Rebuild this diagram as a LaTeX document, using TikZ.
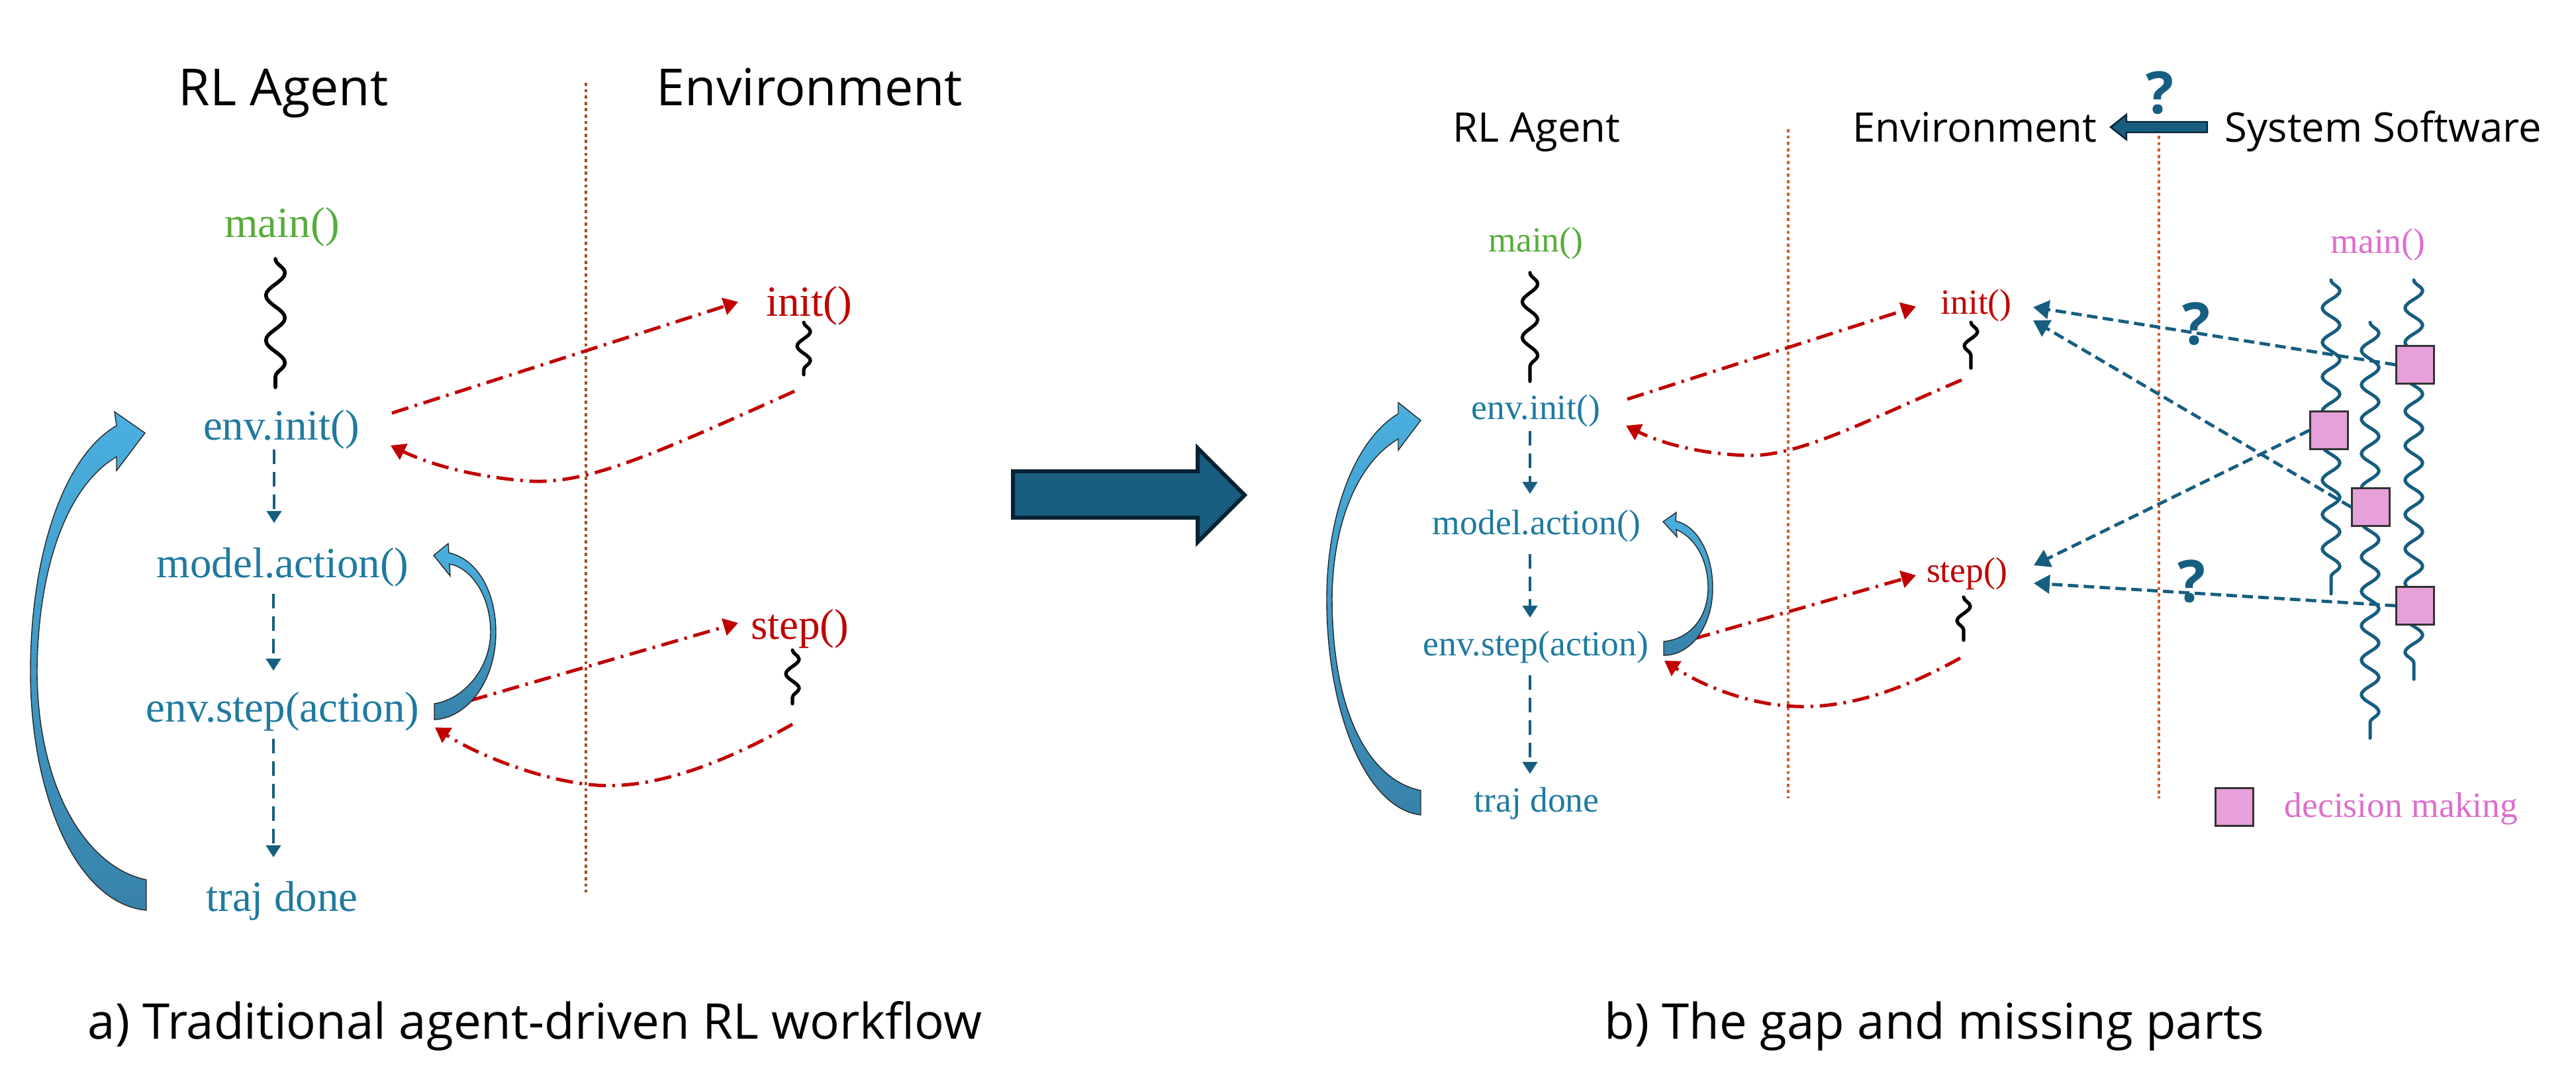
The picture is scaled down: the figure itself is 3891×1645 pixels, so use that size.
\documentclass[tikz,border=0pt]{standalone}
\usepackage{fontspec}
\setmainfont{Liberation Serif}
\newfontfamily\hfont{Open Sans}
\usetikzlibrary{arrows.meta,decorations.pathmorphing}
\definecolor{tealtxt}{RGB}{31,122,160}
\definecolor{tealdk}{RGB}{22,94,128}
\definecolor{redc}{RGB}{192,0,0}
\definecolor{greenc}{RGB}{88,172,60}
\definecolor{pinkc}{RGB}{222,110,205}
\definecolor{pinkfill}{RGB}{230,160,218}
\definecolor{dotL}{RGB}{150,85,40}
\definecolor{dotR}{RGB}{212,95,40}
\definecolor{blockf}{RGB}{23,94,128}
\definecolor{blockd}{RGB}{6,34,51}
\definecolor{cvtop}{RGB}{74,176,224}
\definecolor{cvbot}{RGB}{55,130,170}
\tikzset{
 lab/.style={inner sep=0pt, anchor=base},
 serL/.style={lab, font=\fontsize{16.25}{18}\selectfont},
 serR/.style={lab, font=\fontsize{13.4}{15}\selectfont},
 headL/.style={lab, font=\hfont\fontsize{19.3}{22}\selectfont},
 headR/.style={lab, font=\hfont\fontsize{15.4}{18}\selectfont},
 capt/.style={lab, font=\hfont\fontsize{18.6}{22}\selectfont},
 qmark/.style={inner sep=0pt, text=tealdk, font=\hfont\bfseries\fontsize{22}{24}\selectfont},
 flow/.style={draw=tealdk, line width=1pt, dash pattern=on 5.5pt off 3pt, -{Triangle[width=5.5pt,length=4.5pt]}},
 call/.style={draw=redc, line width=1.25pt, dash pattern=on 6.5pt off 2.5pt on 1pt off 2.5pt, -{Triangle[width=6.5pt,length=5.5pt]}},
 query/.style={draw=tealdk, line width=1.2pt, dash pattern=on 4pt off 2pt, -{Triangle[width=7pt,length=6pt]}},
 sepL/.style={draw=dotL, line width=1.2pt, dash pattern=on 1.2pt off 1.2pt},
 sepR/.style={draw=dotR, line width=1.2pt, dash pattern=on 1.2pt off 1.2pt},
 decide/.style={draw=black!80, fill=pinkfill, line width=0.6pt, minimum size=14.2pt, inner sep=0pt},
 bent/.style={draw=black!85, line width=0.35pt, top color=cvtop, bottom color=cvbot},
 block/.style={fill=blockf, draw=blockd, line width=1.5pt, line join=miter},
 wavyK/.style={draw=black, line width=1.4pt, line cap=round, decorate, decoration={snake, amplitude=3.6pt, segment length=17pt}},
 wavyKr/.style={draw=black, line width=1.3pt, line cap=round, decorate, decoration={snake, amplitude=2.9pt, segment length=13.5pt}},
 wavyKs/.style={draw=black, line width=1.3pt, line cap=round, decorate, decoration={snake, amplitude=2.5pt, segment length=11pt}},
 wavyT/.style={draw=tealdk, line width=1.25pt, line cap=round, decorate, decoration={snake, amplitude=3.3pt, segment length=13pt}},
}
\begin{document}
\begin{tikzpicture}[x=0.25pt,y=-0.25pt]
\fill[white] (0,0) rectangle (3891,1645);
\useasboundingbox (0,0) rectangle (3891,1645);

% ================= LEFT PANEL =================
\node[headL] (lrl) at (428,160) {RL Agent};
\node[headL] (lenv) at (1223,160) {Environment};
\coordinate (lsepT) at (885,125); \coordinate (lsepB) at (885,1348);
\draw[sepL] (lsepT) -- (lsepB);

\node[serL, text=greenc] (lmain) at (426,359) {main()};
\node[serL, text=tealtxt] (linit) at (425,665) {env.init()};
\node[serL, text=tealtxt] (lmodel) at (427,873) {model.action()};
\node[serL, text=tealtxt] (lstep) at (427,1091) {env.step(action)};
\node[serL, text=tealtxt] (ltraj) at (426,1377) {traj done};
\node[serL, text=redc] (leinit) at (1222,478) {init()};
\node[serL, text=redc] (lestep) at (1208,966) {step()};

\coordinate (lw1a) at (416,391); \coordinate (lw1b) at (416,585);
\draw[wavyK] (lw1a) -- (lw1b);
\coordinate (lw2a) at (1214,487); \coordinate (lw2b) at (1214,566);
\draw[wavyKs] (lw2a) -- (lw2b);
\coordinate (lw3a) at (1197,982); \coordinate (lw3b) at (1197,1063);
\draw[wavyKs] (lw3a) -- (lw3b);

\coordinate (lf1a) at (414,679); \coordinate (lf1b) at (414,790);
\coordinate (lf2a) at (413,897); \coordinate (lf2b) at (413,1013);
\coordinate (lf3a) at (413,1116); \coordinate (lf3b) at (413,1295);
\draw[flow] (lf1a) -- (lf1b);
\draw[flow] (lf2a) -- (lf2b);
\draw[flow] (lf3a) -- (lf3b);

% red calls
\coordinate (lc1a) at (592,624); \coordinate (lc1b) at (1115,456);
\draw[call] (lc1a) -- (lc1b);
\coordinate (lr1a) at (1200,591); \coordinate (lr1m) at (790,726); \coordinate (lr1b) at (590,673);
\draw[call] (lr1a) .. controls (980,690) and (880,735) .. (lr1m) .. controls (700,718) and (640,697) .. (lr1b);
\coordinate (lc2a) at (711,1058); \coordinate (lc2b) at (1115,941);
\draw[call] (lc2a) -- (lc2b);
\coordinate (lr2a) at (1197,1094); \coordinate (lr2m) at (900,1186); \coordinate (lr2b) at (657,1099);
\draw[call] (lr2a) .. controls (1080,1160) and (980,1192) .. (lr2m) .. controls (820,1180) and (720,1140) .. (lr2b);

% big curved arrow (left)
\draw[bent] (221,1329) .. controls (130,1310) and (57,1190) .. (56,1015)
  .. controls (57,860) and (100,735) .. (176,690) -- (176,711) -- (219,654) -- (173,622) -- (176,643)
  .. controls (95,690) and (46,840) .. (46,1015) .. controls (46,1200) and (115,1365) .. (221,1375) -- cycle;
% small curved arrow (left)
\draw[bent] (656,1063) .. controls (705,1055) and (741,1005) .. (741,955)
  .. controls (741,900) and (712,858) .. (679,852) -- (680,870) -- (655,839) -- (677,821) -- (678,835)
  .. controls (722,845) and (749,895) .. (749,955) .. controls (749,1030) and (705,1085) .. (656,1087) -- cycle;

% ================= MIDDLE ARROW =================
\draw[block] (1530,712) -- (1809,712) -- (1809,677) -- (1880,748) -- (1809,819) -- (1809,782) -- (1530,782) -- cycle;

% ================= RIGHT PANEL =================
\node[headR] (rrl) at (2321,215) {RL Agent};
\node[headR] (renv) at (2983,215) {Environment};
\node[headR] (rsys) at (3600,215) {System Software};
\draw[fill=blockf, draw=blockd, line width=0.6pt] (3334,184) -- (3212,184) -- (3212,173) -- (3188,192) -- (3212,211) -- (3212,200) -- (3334,200) -- cycle;
\node[qmark] (qtop) at (3262,140) {?};

\coordinate (rsep1T) at (2701,195); \coordinate (rsep1B) at (2701,1206);
\coordinate (rsep2T) at (3261,205); \coordinate (rsep2B) at (3261,1206);
\draw[sepR] (rsep1T) -- (rsep1B);
\draw[sepR] (rsep2T) -- (rsep2B);

\node[serR, text=greenc] (rmain) at (2320,381) {main()};
\node[serR, text=tealtxt] (rinit) at (2320,634) {env.init()};
\node[serR, text=tealtxt] (rmodel) at (2321,808) {model.action()};
\node[serR, text=tealtxt] (rstep) at (2320,991) {env.step(action)};
\node[serR, text=tealtxt] (rtraj) at (2321,1227) {traj done};
\node[serR, text=redc] (reinit) at (2985,475) {init()};
\node[serR, text=redc] (restep) at (2971,880) {step()};
\node[serR, text=pinkc] (smain) at (3592,383) {main()};

\coordinate (rw1a) at (2311,412); \coordinate (rw1b) at (2311,576);
\draw[wavyKr] (rw1a) -- (rw1b);
\coordinate (rw2a) at (2977,487); \coordinate (rw2b) at (2977,556);
\draw[wavyKs] (rw2a) -- (rw2b);
\coordinate (rw3a) at (2966,902); \coordinate (rw3b) at (2966,967);
\draw[wavyKs] (rw3a) -- (rw3b);

\coordinate (rf1a) at (2311,651); \coordinate (rf1b) at (2311,746);
\coordinate (rf2a) at (2311,837); \coordinate (rf2b) at (2311,933);
\coordinate (rf3a) at (2311,1020); \coordinate (rf3b) at (2311,1169);
\draw[flow] (rf1a) -- (rf1b);
\draw[flow] (rf2a) -- (rf2b);
\draw[flow] (rf3a) -- (rf3b);

\coordinate (rc1a) at (2458,603); \coordinate (rc1b) at (2894,463);
\draw[call] (rc1a) -- (rc1b);
\coordinate (rr1a) at (2963,574); \coordinate (rr1m) at (2640,688); \coordinate (rr1b) at (2456,643);
\draw[call] (rr1a) .. controls (2830,630) and (2720,690) .. (rr1m) .. controls (2570,686) and (2510,670) .. (rr1b);
\coordinate (rc2a) at (2558,965); \coordinate (rc2b) at (2894,869);
\draw[call] (rc2a) -- (rc2b);
\coordinate (rr2a) at (2961,994); \coordinate (rr2m) at (2710,1067); \coordinate (rr2b) at (2514,998);
\draw[call] (rr2a) .. controls (2860,1050) and (2780,1070) .. (rr2m) .. controls (2640,1064) and (2570,1035) .. (rr2b);

% big curved arrow (right)
\draw[bent] (2146,1194) .. controls (2075,1180) and (2013,1090) .. (2012,905)
  .. controls (2013,790) and (2050,700) .. (2112,663) -- (2112,680) -- (2146,635) -- (2112,608) -- (2112,625)
  .. controls (2045,665) and (2004,780) .. (2004,905) .. controls (2004,1080) and (2065,1222) .. (2146,1231) -- cycle;
% small curved arrow (right)
\draw[bent] (2513,969) .. controls (2555,965) and (2580,930) .. (2580,888)
  .. controls (2580,845) and (2560,812) .. (2532,800) -- (2533,811) -- (2512,788) -- (2532,774) -- (2531,787)
  .. controls (2566,795) and (2587,840) .. (2587,888) .. controls (2587,945) and (2555,990) .. (2513,990) -- cycle;

% system software threads
\coordinate (sw1a) at (3521,423); \coordinate (sw1b) at (3521,897);
\coordinate (sw2a) at (3580,487); \coordinate (sw2b) at (3580,1115);
\coordinate (sw3a) at (3646,423); \coordinate (sw3b) at (3646,1026);
\draw[wavyT] (sw1a) -- (sw1b);
\draw[wavyT] (sw2a) -- (sw2b);
\draw[wavyT] (sw3a) -- (sw3b);

\node[decide] (sqA) at (3648,551) {};
\node[decide] (sqB) at (3518,650) {};
\node[decide] (sqC) at (3581,766) {};
\node[decide] (sqD) at (3648,915) {};

\coordinate (ti1) at (3071,464); \coordinate (ti2) at (3071,484);
\coordinate (ts1) at (3072,854); \coordinate (ts2) at (3072,881);
\draw[query] (sqA.west) -- (ti1);
\draw[query] (sqC.west) -- (ti2);
\draw[query] (sqB.west) -- (ts1);
\draw[query] (sqD.west) -- (ts2);
\node[qmark] (q1) at (3317,489) {?};
\node[qmark] (q2) at (3310,878) {?};

% legend
\node[decide] (lgsq) at (3375,1219) {};
\node[serR, text=pinkc] (lgtx) at (3627,1235) {decision making};

% captions
\node[capt] (capa) at (808,1570) {a) Traditional agent-driven RL workflow};
\node[capt] (capb) at (2922,1570) {b) The gap and missing parts};
\end{tikzpicture}
\end{document}
